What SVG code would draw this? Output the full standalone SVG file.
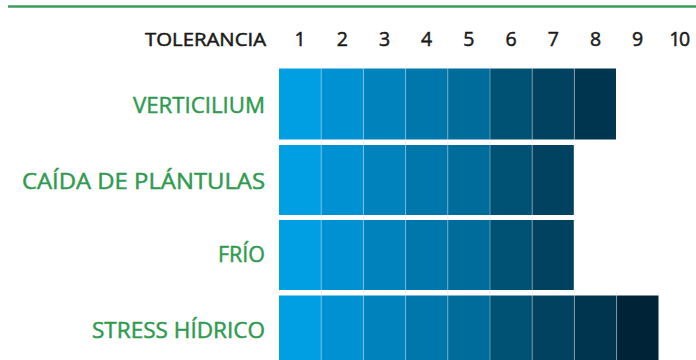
<svg xmlns="http://www.w3.org/2000/svg" width="696" height="360" viewBox="0 0 696 360">
<style>
.hdr{font-family:"Open Sans","Noto Sans","Liberation Sans",sans-serif;font-size:19.5px;font-weight:400;fill:#1a1a1a;stroke:#1a1a1a;stroke-width:0.5;text-anchor:middle}
.lbl{font-family:"Open Sans","Noto Sans","Liberation Sans",sans-serif;font-size:21px;font-weight:400;fill:#2f9a50;stroke:#2f9a50;stroke-width:0.45;text-anchor:end}
.c1{fill:#009fe3}.c2{fill:#0091d2}.c3{fill:#0083bd}.c4{fill:#0077aa}.c5{fill:#006c9c}.c6{fill:#005275}.c7{fill:#004260}.c8{fill:#00354f}.c9{fill:#002338}
.sep{stroke:#cfe0ea;stroke-opacity:0.45;stroke-width:1}
</style>
<line x1="8" y1="6.5" x2="696" y2="6.5" stroke="#3d9b5b" stroke-width="2.5"/>
<g id="header">
<text class="hdr" x="266" y="45.5" style="text-anchor:end;font-size:18px" textLength="121" lengthAdjust="spacingAndGlyphs">TOLERANCIA</text>
<text class="hdr" x="300.1" y="45.5">1</text>
<text class="hdr" x="342.3" y="45.5">2</text>
<text class="hdr" x="384.5" y="45.5">3</text>
<text class="hdr" x="426.7" y="45.5">4</text>
<text class="hdr" x="468.9" y="45.5">5</text>
<text class="hdr" x="511.1" y="45.5">6</text>
<text class="hdr" x="553.3" y="45.5">7</text>
<text class="hdr" x="595.5" y="45.5">8</text>
<text class="hdr" x="637.7" y="45.5">9</text>
<text class="hdr" x="679" y="45.5" style="letter-spacing:-1.5px">10</text>
</g>
<g id="verticilium">
<text class="lbl" x="265" y="113" textLength="132" lengthAdjust="spacingAndGlyphs">VERTICILIUM</text>
<rect class="c1" x="279" y="68.5" width="42.2" height="71"/>
<rect class="c2" x="321.2" y="68.5" width="42.2" height="71"/>
<rect class="c3" x="363.4" y="68.5" width="42.2" height="71"/>
<rect class="c4" x="405.6" y="68.5" width="42.2" height="71"/>
<rect class="c5" x="447.8" y="68.5" width="42.2" height="71"/>
<rect class="c6" x="490" y="68.5" width="42.2" height="71"/>
<rect class="c7" x="532.2" y="68.5" width="42.2" height="71"/>
<rect class="c8" x="574.4" y="68.5" width="41.6" height="71"/>
</g>
<g id="caida">
<text class="lbl" x="265" y="188.5" textLength="243" lengthAdjust="spacingAndGlyphs">CAÍDA DE PLÁNTULAS</text>
<rect class="c1" x="279" y="145" width="42.2" height="70"/>
<rect class="c2" x="321.2" y="145" width="42.2" height="70"/>
<rect class="c3" x="363.4" y="145" width="42.2" height="70"/>
<rect class="c4" x="405.6" y="145" width="42.2" height="70"/>
<rect class="c5" x="447.8" y="145" width="42.2" height="70"/>
<rect class="c6" x="490" y="145" width="42.2" height="70"/>
<rect class="c7" x="532.2" y="145" width="41.6" height="70"/>
</g>
<g id="frio">
<text class="lbl" x="265" y="262" textLength="47" lengthAdjust="spacingAndGlyphs">FRÍO</text>
<rect class="c1" x="279" y="220" width="42.2" height="70"/>
<rect class="c2" x="321.2" y="220" width="42.2" height="70"/>
<rect class="c3" x="363.4" y="220" width="42.2" height="70"/>
<rect class="c4" x="405.6" y="220" width="42.2" height="70"/>
<rect class="c5" x="447.8" y="220" width="42.2" height="70"/>
<rect class="c6" x="490" y="220" width="42.2" height="70"/>
<rect class="c7" x="532.2" y="220" width="41.6" height="70"/>
</g>
<g id="stress">
<text class="lbl" x="265" y="338" textLength="173" lengthAdjust="spacingAndGlyphs">STRESS HÍDRICO</text>
<rect class="c1" x="279" y="295.5" width="42.2" height="64.5"/>
<rect class="c2" x="321.2" y="295.5" width="42.2" height="64.5"/>
<rect class="c3" x="363.4" y="295.5" width="42.2" height="64.5"/>
<rect class="c4" x="405.6" y="295.5" width="42.2" height="64.5"/>
<rect class="c5" x="447.8" y="295.5" width="42.2" height="64.5"/>
<rect class="c6" x="490" y="295.5" width="42.2" height="64.5"/>
<rect class="c7" x="532.2" y="295.5" width="42.2" height="64.5"/>
<rect class="c8" x="574.4" y="295.5" width="42.2" height="64.5"/>
<rect class="c9" x="616.6" y="295.5" width="42.1" height="64.5"/>
</g>
<g id="grid" class="sep">
<path d="M321.2 66V360M363.4 66V360M405.6 66V360M447.8 66V360M490 66V360M532.2 66V360M574.4 66V140M574.4 290V360M616.6 292V360M658.7 292V360"/>
</g>
</svg>
